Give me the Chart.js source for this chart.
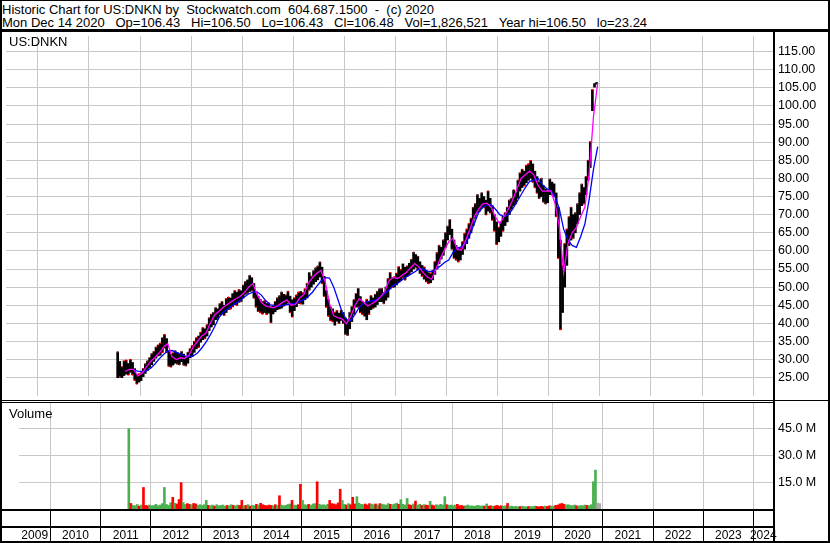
<!DOCTYPE html>
<html>
<head>
<meta charset="utf-8">
<script src="https://cdn.jsdelivr.net/npm/chart.js@4.4.1/dist/chart.umd.min.js"></script>
<style>
    html, body { margin: 0; padding: 0; background: #fff; }
    #wrap { position: relative; width: 830px; height: 543px; overflow: hidden; font-family: "Liberation Sans", Arial, sans-serif; color: #000; }
    canvas { position: absolute; }
    .ln { position: absolute; background: #000; }
    .txt { position: absolute; white-space: pre; font-size: 13px; line-height: 13px; }
</style>
</head>
<body>
<div id="wrap">
    <canvas id="priceChart" width="826" height="368" style="left:2px;top:32px"></canvas>
    <canvas id="volChart" width="826" height="138" style="left:2px;top:403px"></canvas>

    <!-- frame -->
    <div class="ln" style="left:0;top:0;width:830px;height:1px"></div>
    <div class="ln" style="left:0;top:0;width:2px;height:543px"></div>
    <div class="ln" style="left:828px;top:0;width:2px;height:543px"></div>
    <div class="ln" style="left:0;top:541px;width:830px;height:2px"></div>
    <div class="ln" style="left:0;top:29px;width:830px;height:3px"></div>
    <div class="ln" style="left:773px;top:29px;width:2px;height:514px"></div>
    <div class="ln" style="left:0;top:400px;width:773px;height:1px"></div>
    <div class="ln" style="left:0;top:402px;width:773px;height:1px"></div>
    <div class="ln" style="left:775px;top:400px;width:55px;height:1px"></div>
    <div class="ln" style="left:0;top:509px;width:773px;height:2px"></div>
    <div class="ln" style="left:0;top:526px;width:773px;height:2px"></div>

    <div class="txt" id="head1" style="left:2px;top:3px"></div>
    <div class="txt" id="head2" style="left:2px;top:16px"></div>
    <div class="txt" style="left:9px;top:35px">US:DNKN</div>
    <div class="txt" style="left:9px;top:407px">Volume</div>
</div>

<script>
// ---------- 数据 ----------
const header1 = 'Historic Chart for US:DNKN by  Stockwatch.com  604.687.1500  -  (c) 2020';
const header2 = 'Mon Dec 14 2020   Op=106.43   Hi=106.50   Lo=106.43   Cl=106.48   Vol=1,826,521   Year hi=106.50   lo=23.24';

const years = ['2009', '2010', '2011', '2012', '2013', '2014', '2015', '2016', '2017', '2018', '2019', '2020', '2021', '2022', '2023', '2024'];
const priceTicks = [25, 30, 35, 40, 45, 50, 55, 60, 65, 70, 75, 80, 85, 90, 95, 100, 105, 110, 115];
const volTicks = [15, 30, 45];   // 百万

// 半月柱, 从 2011 年 7 月下半月开始
const halfMonthStart = 2011 + 6 / 12 + 1.5 / 24;
const barHigh = [
    32.1, 29.5, 28.0, 29.6, 29.8, 28.9, 30.0, 29.2, 27.5, 25.9, 26.0,
    26.3, 27.5, 28.8, 29.6, 30.5, 31.6, 32.2, 33.4, 34.0, 34.5, 36.0, 36.9, 35.8, 32.5, 31.5, 31.8, 32.4, 32.0, 31.7, 32.2, 31.5, 30.8, 32.0, 33.0,
    33.8, 35.0, 36.0, 36.5, 37.5, 38.8, 38.5, 39.6, 41.5, 42.5, 43.0, 44.3, 44.0, 45.4, 46.0, 45.0, 46.8, 47.2, 47.0, 48.2, 49.0, 48.6, 49.3, 49.0,
    50.5, 51.5, 52.0, 53.2, 52.6, 51.0, 48.5, 47.5, 46.6, 46.0, 46.2, 45.5, 45.6, 44.6, 45.0, 46.0, 47.0, 47.6, 48.6, 48.0, 47.8, 48.8, 47.5, 46.5,
    47.0, 47.8, 48.6, 48.8, 48.4, 49.5, 51.0, 54.0, 53.0, 54.5, 55.3, 55.8, 56.9, 55.5, 53.0, 49.0, 46.5, 44.5, 44.0, 43.0, 43.5, 42.8, 43.6, 43.0,
    41.5, 41.0, 43.0, 44.6, 46.5, 48.2, 49.6, 47.4, 46.0, 45.5, 46.6, 46.0, 47.6, 47.0, 48.0, 48.8, 49.5, 49.6, 48.6, 50.0, 52.3, 54.0, 52.6, 52.8,
    53.8, 55.6, 54.8, 56.4, 55.5, 55.8, 56.6, 57.6, 59.6, 59.0, 58.5, 57.0, 56.0, 55.5, 54.5, 54.0, 53.8, 54.6, 57.0, 59.5, 61.5, 61.0, 63.0, 65.0,
    66.8, 68.6, 66.0, 63.0, 61.5, 60.5, 60.8, 62.5, 64.8, 66.0, 67.5, 69.0, 72.0, 73.0, 75.5, 74.5, 76.0, 75.0, 74.0, 76.5, 74.5, 72.5, 70.0, 68.0,
    66.5, 68.0, 69.5, 70.5, 72.0, 74.0, 74.5, 76.8, 76.0, 79.5, 81.5, 82.5, 82.0, 83.6, 84.0, 84.9, 84.0, 82.0, 80.5, 79.0, 80.0, 78.0, 77.0, 76.5,
    79.8, 79.0, 78.5, 76.0, 72.0, 63.0, 56.0, 62.0, 66.0, 69.4, 72.0, 70.0, 70.5, 73.0, 76.0, 78.4, 77.5, 80.5, 85.0, 90.1, 104.5, 106.2, 106.5
];
const barLow = [
    25.0, 25.2, 25.0, 25.6, 26.0, 25.8, 26.5, 25.8, 24.3, 23.3, 23.8,
    24.2, 25.3, 26.2, 27.0, 27.8, 28.6, 29.5, 30.4, 31.0, 31.2, 32.0, 33.2, 32.0, 28.2, 28.0, 28.5, 29.0, 28.8, 28.6, 29.4, 28.5, 28.3, 29.0, 30.5,
    30.8, 32.0, 33.0, 33.4, 34.8, 35.5, 35.8, 36.5, 38.0, 39.0, 39.6, 41.0, 41.2, 42.3, 42.6, 42.2, 43.0, 43.8, 44.0, 44.6, 45.2, 45.0, 45.8, 46.0,
    47.0, 48.0, 48.3, 48.8, 49.0, 47.0, 44.5, 43.3, 43.0, 42.6, 43.0, 42.5, 42.8, 40.2, 42.6, 43.2, 43.8, 44.0, 44.2, 44.8, 45.2, 45.6, 43.0, 41.8,
    43.5, 44.6, 45.5, 45.4, 45.3, 46.5, 47.0, 49.2, 50.0, 50.8, 51.5, 52.0, 52.8, 51.0, 47.5, 44.5, 42.0, 40.8, 40.5, 39.5, 40.6, 40.0, 40.8, 40.0,
    37.0, 36.7, 38.5, 40.5, 42.5, 44.5, 44.5, 43.0, 42.5, 42.0, 41.0, 42.5, 43.8, 44.2, 44.5, 45.2, 46.0, 46.0, 45.5, 46.4, 47.2, 49.5, 50.0, 50.0,
    50.6, 51.5, 51.8, 52.6, 52.0, 53.0, 53.4, 54.2, 55.0, 55.4, 54.8, 53.8, 53.0, 52.2, 51.5, 51.0, 51.2, 52.0, 53.5, 55.0, 56.5, 57.8, 58.8, 61.0,
    63.0, 64.5, 60.5, 58.0, 57.5, 57.0, 57.5, 59.0, 60.5, 62.0, 63.5, 65.0, 67.0, 69.0, 70.5, 71.0, 71.8, 72.0, 70.0, 71.0, 70.5, 68.5, 65.5, 61.8,
    62.5, 64.0, 65.5, 67.0, 68.0, 70.0, 71.5, 72.5, 73.0, 74.5, 76.5, 77.5, 78.0, 78.8, 79.5, 80.0, 79.0, 77.5, 76.0, 74.5, 75.0, 73.5, 73.0, 73.3,
    75.5, 75.5, 75.0, 69.5, 58.0, 38.3, 43.0, 50.0, 56.0, 61.5, 63.0, 63.5, 65.0, 67.5, 70.0, 72.5, 73.0, 75.5, 79.5, 83.0, 98.7, 105.2, 106.0
];
// 成交量 (百万股), 同样是半月
const volume = [
    44.8, 3.1, 2.0, 1.8, 2.5, 1.6, 2.2, 12.0, 2.0, 1.8, 2.2,
    1.8, 2.0, 2.6, 1.8, 2.2, 3.0, 12.0, 2.5, 2.0, 3.5, 6.5, 3.2, 2.8, 5.3, 14.7, 3.6, 2.5, 3.0, 2.6, 2.4, 3.1, 2.8, 2.0, 2.4,
    2.0, 2.4, 4.8, 2.0, 1.8, 2.2, 1.6, 2.4, 1.8, 2.0, 2.2, 1.6, 2.0, 1.8, 2.4, 2.0, 1.7, 2.2, 2.0, 4.8, 1.8, 2.0, 2.4, 1.6,
    2.0, 1.8, 2.6, 2.2, 3.2, 2.4, 2.0, 1.8, 2.2, 2.0, 1.8, 2.4, 2.0, 7.4, 2.2, 1.8, 2.0, 2.5, 2.8, 4.8, 2.2, 2.0, 2.4, 13.8,
    4.8, 2.4, 2.2, 2.6, 2.0, 2.8, 3.0, 15.2, 2.6, 2.2, 2.4, 2.0, 2.6, 4.8, 3.0, 2.8, 2.4, 3.4, 11.0, 4.8, 2.6, 2.2, 3.0, 2.4,
    6.5, 2.8, 6.9, 3.2, 2.6, 2.4, 2.8, 2.2, 3.0, 2.6, 2.4, 2.8, 2.2, 3.0, 2.6, 2.4, 2.2, 3.0, 2.6, 2.4, 2.8, 3.2, 2.6, 5.2,
    2.6, 2.2, 5.9, 2.4, 2.0, 2.8, 4.4, 2.2, 2.6, 2.0, 2.4, 2.2, 2.0, 4.3, 2.2, 1.8, 2.4, 2.0, 2.6, 2.2, 6.9, 2.4, 2.0, 2.2,
    1.8, 2.2, 2.6, 1.8, 2.0, 1.6, 1.8, 2.2, 1.6, 1.8, 1.5, 1.8, 2.0, 1.6, 1.8, 1.6, 2.8, 1.6, 1.8, 1.5, 1.7, 2.0, 1.6, 1.8,
    1.5, 1.8, 3.1, 1.4, 1.6, 1.3, 1.5, 1.2, 1.4, 1.6, 1.3, 1.2, 1.4, 1.5, 1.3, 1.6, 1.4, 1.2, 1.5, 1.3, 1.6, 1.4, 1.8, 1.5,
    1.6, 2.0, 2.2, 2.8, 3.1, 2.6, 2.2, 2.4, 2.0, 1.8, 2.2, 1.8, 1.6, 2.0, 1.8, 2.2, 2.0, 1.8, 2.4, 15.2, 21.7, 3.3, 3.0
];
// 涨跌: G 涨, R 跌, N 平
const volDir = (
    'GRGGGRGRRRG' +
    'GGGGGGGGGGRGRRRGGRRGRRGG' +
    'GGGRGGRGGGGGRGGRGGRRGRGR' +
    'GGRGRRRRRRGRGRGGGGGRGGRR' +
    'GGGRGGGRGGGGGRRRRRRGGRGR' +
    'RRGGGGRRRGGRGRGGGGRGGGRG' +
    'GGGRRGRGGRGRRGRRGGGGGRGG' +
    'GGRRRRGGGGGGGGGRGRRGRRRR' +
    'GGRGGGGGRGGGRGGGRRRRGRRG' +
    'GRRRRRGGGGGRGGGGRGGGGNN'
).split('');

// 均线 (月), 洋红从 2011 年 9 月, 蓝色从 2011 年 11 月
const maFastStart = 2011 + 8.5 / 12;
const maFast = [
    26.7, 27.3, 27.3, 25.5,
    26.2, 28.0, 29.5, 30.6, 31.8, 33.4, 34.4, 30.8, 30.0, 30.5, 30.3, 31.2,
    33.5, 35.0, 36.5, 37.3, 40.0, 42.3, 43.3, 44.4, 45.2, 46.0, 46.8, 47.4,
    48.5, 50.0, 51.0, 48.0, 45.8, 44.8, 44.5, 44.3, 45.0, 45.8, 46.5, 45.0,
    45.2, 47.0, 48.0, 51.0, 52.6, 53.8, 54.6, 51.5, 45.5, 42.1, 41.6, 41.2,
    39.9, 42.0, 45.0, 46.8, 45.8, 44.8, 45.5, 46.2, 47.3, 48.8, 51.8, 52.7,
    52.4, 53.2, 54.0, 55.3, 56.5, 55.6, 54.0, 52.8, 52.2, 55.0, 57.8, 60.3,
    62.5, 63.5, 60.4, 60.2, 63.0, 66.0, 69.5, 71.5, 73.0, 73.2, 72.0, 69.3,
    67.5, 69.5, 71.5, 74.0, 77.0, 80.0, 81.0, 82.0, 81.0, 78.0, 76.5, 76.5,
    76.6, 73.0, 66.5, 54.0, 62.0, 65.0, 66.5, 69.5, 72.1, 81.5, 97.0, 106.4
];
const maSlowStart = 2011 + 10.5 / 12;
const maSlow = [
    27.0, 26.8,
    26.7, 26.9, 27.6, 28.8, 30.2, 31.4, 32.4, 32.5, 32.0, 31.5, 31.0, 30.8,
    31.0, 31.8, 33.2, 34.8, 36.8, 39.0, 41.5, 43.0, 43.9, 44.8, 45.6, 46.3,
    47.3, 48.1, 48.6, 48.7, 47.8, 46.3, 45.2, 44.8, 44.7, 44.9, 45.2, 45.4,
    45.6, 46.0, 46.6, 47.4, 48.6, 50.2, 51.7, 52.6, 52.5, 50.0, 46.5, 43.0,
    41.0, 40.8, 42.5, 44.5, 45.5, 46.0, 46.2, 46.5, 47.3, 48.2, 49.3, 50.5,
    51.0, 52.0, 52.8, 53.5, 54.2, 55.0, 55.0, 54.4, 54.3, 55.0, 55.8, 56.8,
    57.5, 59.5, 60.7, 61.2, 62.0, 64.5, 67.5, 70.5, 72.0, 72.7, 72.7, 71.5,
    70.0, 69.5, 70.0, 71.5, 73.5, 75.5, 77.5, 79.2, 79.5, 80.0, 78.3, 77.2,
    76.6, 75.0, 71.5, 66.0, 63.0, 61.5, 61.0, 64.0, 67.5, 74.3, 82.5, 88.8
];

// ---------- 坐标范围 ----------
const xMin = 2009.377;
const xMax = 2024.389;
const yearLines = years.slice(1).map(Number);                 // 年份分界
const yearMids = years.map(y => {
    const a = Math.max(Number(y), xMin), b = Math.min(Number(y) + 1, xMax);
    return (a + b) / 2;
});

const barTimes = barHigh.map((_, i) => halfMonthStart + i / 24);
const priceBars = barHigh.map((h, i) => ({ x: barTimes[i], y: [barLow[i], h] }));
const closeMarks = barHigh.map((h, i) => volDir[i] === 'R' ? { x: barTimes[i], y: barLow[i] }
    : volDir[i] === 'G' ? { x: barTimes[i], y: h } : null).filter(Boolean);
const fastPts = maFast.map((v, i) => ({ x: maFastStart + i / 12, y: v }));
const slowPts = maSlow.map((v, i) => ({ x: maSlowStart + i / 12, y: v }));
const volBars = volume.map((v, i) => ({ x: barTimes[i], y: v }));
const volColors = volDir.map(d => d === 'G' ? '#4cb050' : d === 'R' ? '#ff0000' : '#a8a8a8');

document.getElementById('head1').textContent = header1;
document.getElementById('head2').textContent = header2;

// ---------- Chart.js 全局 ----------
Chart.defaults.font.family = '"Liberation Sans", Arial, sans-serif';
Chart.defaults.font.size = 12.5;
Chart.defaults.color = '#000';

const gridColor = '#c8c8c8';

function xGridScale() {
    return {
        type: 'linear', min: xMin, max: xMax, offset: false,
        ticks: { display: false },
        grid: { color: gridColor, lineWidth: 1, drawTicks: false, offset: false },
        border: { display: false },
        afterBuildTicks: s => { s.ticks = yearLines.map(v => ({ value: v })); }
    };
}

function rightAxis(min, max, tickVals, fmt) {
    return {
        type: 'linear', position: 'right', min: min, max: max,
        ticks: { callback: fmt, padding: 5, autoSkip: false, color: '#000' },
        grid: { color: gridColor, lineWidth: 1, drawTicks: false },
        border: { display: false },
        afterBuildTicks: s => { s.ticks = tickVals.map(v => ({ value: v })); },
        afterFit: s => { s.width = 55; s.paddingTop = 0; s.paddingBottom = 0; }
    };
}

// ---------- 价格图 ----------
new Chart(document.getElementById('priceChart'), {
    type: 'bar',
    data: {
        datasets: [
            { type: 'line', data: fastPts, borderColor: '#ff00ff', borderWidth: 1.3, pointRadius: 0, tension: 0, order: 1 },
            { type: 'line', data: slowPts, borderColor: '#0000ff', borderWidth: 1.3, pointRadius: 0, tension: 0, order: 2 },
            { type: 'scatter', data: closeMarks, pointStyle: 'rect', pointRadius: 1, backgroundColor: '#ff0000', borderWidth: 0, order: 3 },
            { type: 'bar', data: priceBars, backgroundColor: '#000', barThickness: 2, borderWidth: 0, order: 4 }
        ]
    },
    options: {
        responsive: false,
        animation: false,
        devicePixelRatio: 1,
        events: [],
        layout: { padding: 0 },
        plugins: { legend: { display: false }, tooltip: { enabled: false } },
        scales: {
            x: xGridScale(),
            y: rightAxis(19.95, 119.32, priceTicks, v => v.toFixed(2))
        }
    }
});

// ---------- 成交量图 ----------
const yearRowLines = {
    id: 'yearRowLines',
    afterDraw(chart) {
        const { ctx, chartArea, scales } = chart;
        ctx.save();
        ctx.fillStyle = '#000';
        yearLines.forEach(v => {
            const px = Math.round(scales.x.getPixelForValue(v) - 0.5);
            ctx.fillRect(px, chartArea.bottom, 1, chart.height - chartArea.bottom);
        });
        ctx.restore();
    }
};

new Chart(document.getElementById('volChart'), {
    type: 'bar',
    data: {
        datasets: [{
            data: volBars,
            backgroundColor: volColors,
            barThickness: 2,
            borderWidth: 0
        }]
    },
    options: {
        responsive: false,
        animation: false,
        devicePixelRatio: 1,
        events: [],
        layout: { padding: 0 },
        plugins: { legend: { display: false }, tooltip: { enabled: false } },
        scales: {
            x: xGridScale(),
            years: {
                type: 'linear', position: 'bottom', min: xMin, max: xMax, offset: false, weight: 1,
                grid: { display: false, drawTicks: false },
                border: { display: false },
                ticks: { autoSkip: false, maxRotation: 0, padding: 19, font: { size: 12 }, color: '#000',
                         callback: (v, i) => years[i] },
                afterBuildTicks: s => { s.ticks = yearMids.map(v => ({ value: v })); },
                afterFit: s => { s.height = 32; }
            },
            y: rightAxis(0, 59.1, volTicks, v => v.toFixed(1) + ' M')
        }
    },
    plugins: [yearRowLines]
});
</script>
</body>
</html>
